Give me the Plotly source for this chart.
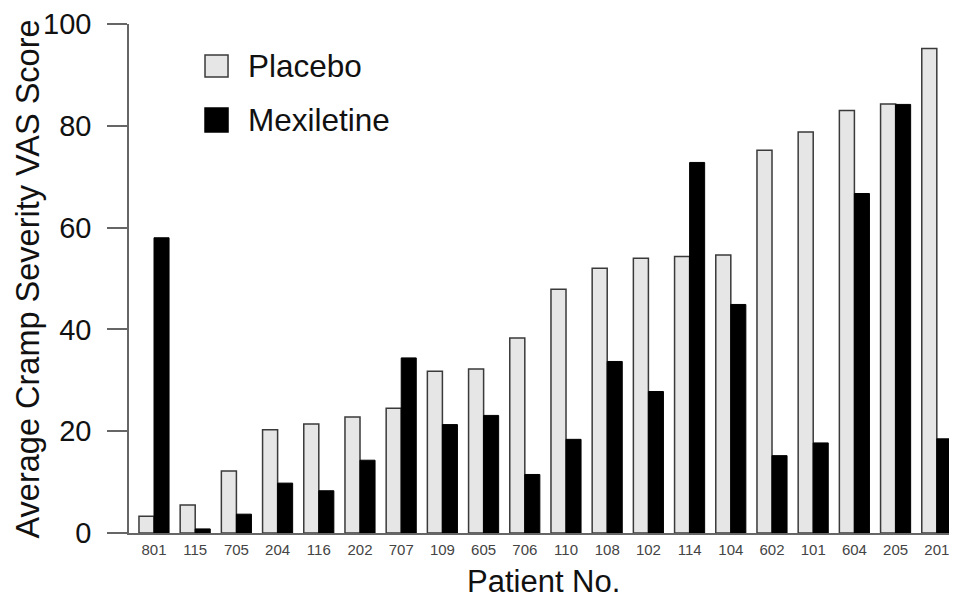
import plotly.graph_objects as go

patients = ["801", "115", "705", "204", "116", "202", "707", "109", "605", "706",
            "110", "108", "102", "114", "104", "602", "101", "604", "205", "201"]
placebo = [3.3, 5.5, 12.2, 20.3, 21.4, 22.8, 24.5, 31.8, 32.2, 38.3,
           47.9, 52.0, 54.0, 54.3, 54.6, 75.2, 78.8, 83.0, 84.3, 95.2]
mexiletine = [58.0, 0.8, 3.7, 9.8, 8.3, 14.3, 34.4, 21.3, 23.1, 11.5,
              18.4, 33.7, 27.8, 72.8, 44.9, 15.2, 17.7, 66.7, 84.2, 18.5]
y_ticks = [0, 20, 40, 60, 80, 100]

FONT = "Liberation Sans, Arial, sans-serif"

fig = go.Figure()
fig.add_trace(go.Bar(x=patients, y=placebo, name="Placebo",
                     marker=dict(color="#e6e6e6", line=dict(color="#3a3a3a", width=1.5)),
                     showlegend=False))
fig.add_trace(go.Bar(x=patients, y=mexiletine, name="Mexiletine",
                     marker=dict(color="#000000", line=dict(color="#000000", width=1)),
                     showlegend=False))

# custom legend (large swatches)
legend_items = [("Placebo", "#e6e6e6", "#3a3a3a", 0.8959, 0.9391, 0.9175),
                ("Mexiletine", "#000000", "#000000", 0.7878, 0.8350, 0.8114)]
for name, fill, line, y0, y1, yc in legend_items:
    fig.add_shape(type="rect", xref="paper", yref="paper", x0=0.0918, x1=0.1196,
                  y0=y0, y1=y1, fillcolor=fill, line=dict(color=line, width=1.5))
    fig.add_annotation(xref="paper", yref="paper", x=0.1413, y=yc, text=name,
                       showarrow=False, xanchor="left", yanchor="middle",
                       font=dict(size=31.5, color="#111", family=FONT))

# axis titles
fig.add_annotation(xref="paper", yref="paper", x=-0.122, y=0.5,
                   text="Average Cramp Severity VAS Score", textangle=-90,
                   showarrow=False, xanchor="center", yanchor="middle",
                   font=dict(size=32.5, color="#111", family=FONT))
fig.add_annotation(xref="paper", yref="paper", x=0.5, y=-0.096,
                   text="Patient No.", showarrow=False,
                   xanchor="center", yanchor="middle",
                   font=dict(size=31, color="#111", family=FONT))

# page body has an 8px default margin, so the figure is sized/offset to compensate
fig.update_layout(
    width=949, height=594,
    margin=dict(l=121, r=0, t=16, b=69, autoexpand=False),
    paper_bgcolor="white", plot_bgcolor="white",
    barmode="group", bargap=0.27, bargroupgap=0,
    font=dict(family=FONT, color="#111"),
)
fig.update_xaxes(type="category", range=[-0.607, 19.49], automargin=False,
                 showline=True, linecolor="#666", linewidth=1.5,
                 ticks="", showgrid=False, zeroline=False,
                 tickfont=dict(size=15, color="#444", family=FONT),
                 ticklabelstandoff=2)
fig.update_yaxes(range=[0, 100], tickvals=y_ticks, automargin=False,
                 showline=True, linecolor="#666", linewidth=1.5,
                 ticks="outside", ticklen=20, tickcolor="#666", tickwidth=1.5,
                 showgrid=False, zeroline=False,
                 tickfont=dict(size=29, color="#111", family=FONT),
                 ticklabelstandoff=10)

fig.write_html("out.html")
